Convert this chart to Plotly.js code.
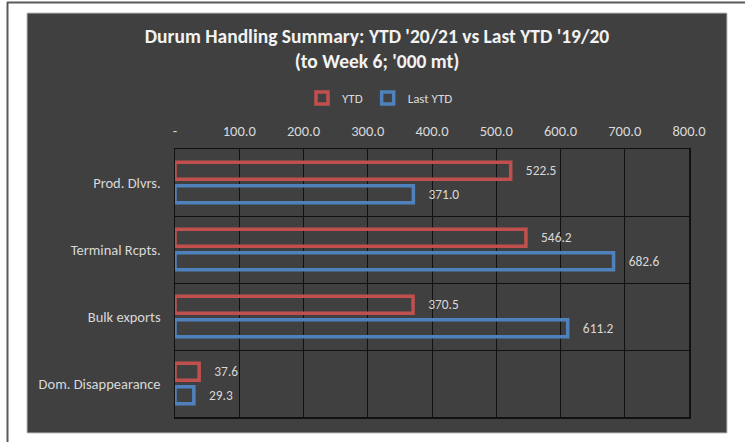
<!DOCTYPE html>
<html>
<head>
<meta charset="utf-8">
<script src="https://cdn.plot.ly/plotly-3.0.1.min.js"></script>
<style>
html,body{margin:0;padding:0;background:#ffffff;}
#chart{width:745px;height:442px;}
</style>
</head>
<body>
<div id="chart"></div>
<script>
const categories = ["Prod. Dlvrs.", "Terminal Rcpts.", "Bulk exports", "Dom. Disappearance"];
const ytdValues = [522.5, 546.2, 370.5, 37.6];
const lastYtdValues = [371.0, 682.6, 611.2, 29.3];
const seriesNames = ["YTD", "Last YTD"];
const xTickVals = [0, 100, 200, 300, 400, 500, 600, 700, 800];
const xTickText = ["-", "100.0", "200.0", "300.0", "400.0", "500.0", "600.0", "700.0", "800.0"];

const FONT = "Carlito, 'Noto Sans', 'Liberation Sans', sans-serif";
const DARK = "#404040";
const LABEL = "#d9d9d9";
const RED = "#c0504d";
const BLUE = "#4f81bd";

function barTrace(name, vals, color) {
  return {
    type: "bar",
    orientation: "h",
    name: name,
    y: categories,
    x: vals,
    marker: {color: "rgba(0,0,0,0)", line: {color: color, width: 3.5}},
    text: vals.map(v => v.toFixed(1)),
    texttemplate: "\u00a0\u00a0\u00a0\u00a0%{text}",
    textposition: "outside",
    textfont: {family: FONT, size: 13.5, color: LABEL},
    cliponaxis: false,
    hoverinfo: "skip"
  };
}

const data = [
  barTrace(seriesNames[0], ytdValues, RED),
  barTrace(seriesNames[1], lastYtdValues, BLUE)
];

// plot area: x 175..689, y 149..417
const PL = 175, PR = 689, PT = 149, PB = 417;
const px = v => (v - PL) / (PR - PL);
const py = v => (PB - v) / (PB - PT);

const layout = {
  width: 745,
  height: 442,
  margin: {l: PL, r: 745 - PR, t: PT, b: 442 - PB, pad: 0},
  paper_bgcolor: "#ffffff",
  plot_bgcolor: DARK,
  font: {family: FONT, color: LABEL, size: 13},
  title: {
    text: "<b>Durum Handling Summary: YTD '20/21 vs Last YTD '19/20<br>(to Week 6; '000 mt)</b>",
    font: {family: FONT, size: 19.5, color: "#f2f2f2"},
    xref: "container", x: 377 / 745, xanchor: "center",
    yref: "container", y: 1 - 43 / 442, yanchor: "middle"
  },
  barmode: "group",
  bargap: 0.30,
  bargroupgap: 0.28,
  showlegend: true,
  legend: {
    orientation: "h",
    x: px(380), xanchor: "center",
    y: py(98), yanchor: "middle",
    font: {family: FONT, size: 13, color: LABEL},
    bgcolor: "rgba(0,0,0,0)",
    itemwidth: 30,
    tracegroupgap: 0
  },
  xaxis: {
    side: "top",
    range: [0, 800],
    tickvals: xTickVals,
    ticktext: xTickText,
    showgrid: true,
    gridcolor: "#111111",
    gridwidth: 1,
    zeroline: false,
    showline: true,
    linecolor: "#111111",
    linewidth: 1.5,
    mirror: true,
    ticks: "outside",
    ticklen: 6,
    tickcolor: "rgba(0,0,0,0)",
    tickfont: {family: FONT, size: 14.5, color: LABEL},
    fixedrange: true
  },
  yaxis: {
    type: "category",
    autorange: "reversed",
    tickson: "boundaries",
    showgrid: true,
    gridcolor: "#111111",
    gridwidth: 1,
    showline: true,
    linecolor: "#111111",
    linewidth: 1.5,
    mirror: true,
    ticks: "",
    ticklabelstandoff: 10,
    tickfont: {family: FONT, size: 14.5, color: LABEL},
    fixedrange: true
  },
  shapes: [
    // dark chart area
    {type: "rect", xref: "paper", yref: "paper", layer: "below",
     x0: px(27), x1: px(727), y0: py(433), y1: py(13),
     fillcolor: DARK, line: {color: "#bfbfbf", width: 1}},
    // outer frame lines
    {type: "line", xref: "paper", yref: "paper", layer: "below",
     x0: px(7), x1: px(745), y0: py(2.5), y1: py(2.5),
     line: {color: "#5a5a5a", width: 2}},
    {type: "line", xref: "paper", yref: "paper", layer: "below",
     x0: px(7.5), x1: px(7.5), y0: py(2), y1: py(442),
     line: {color: "#5a5a5a", width: 2}}
  ]
};

Plotly.newPlot("chart", data, layout, {displayModeBar: false, staticPlot: true});
</script>
</body>
</html>
